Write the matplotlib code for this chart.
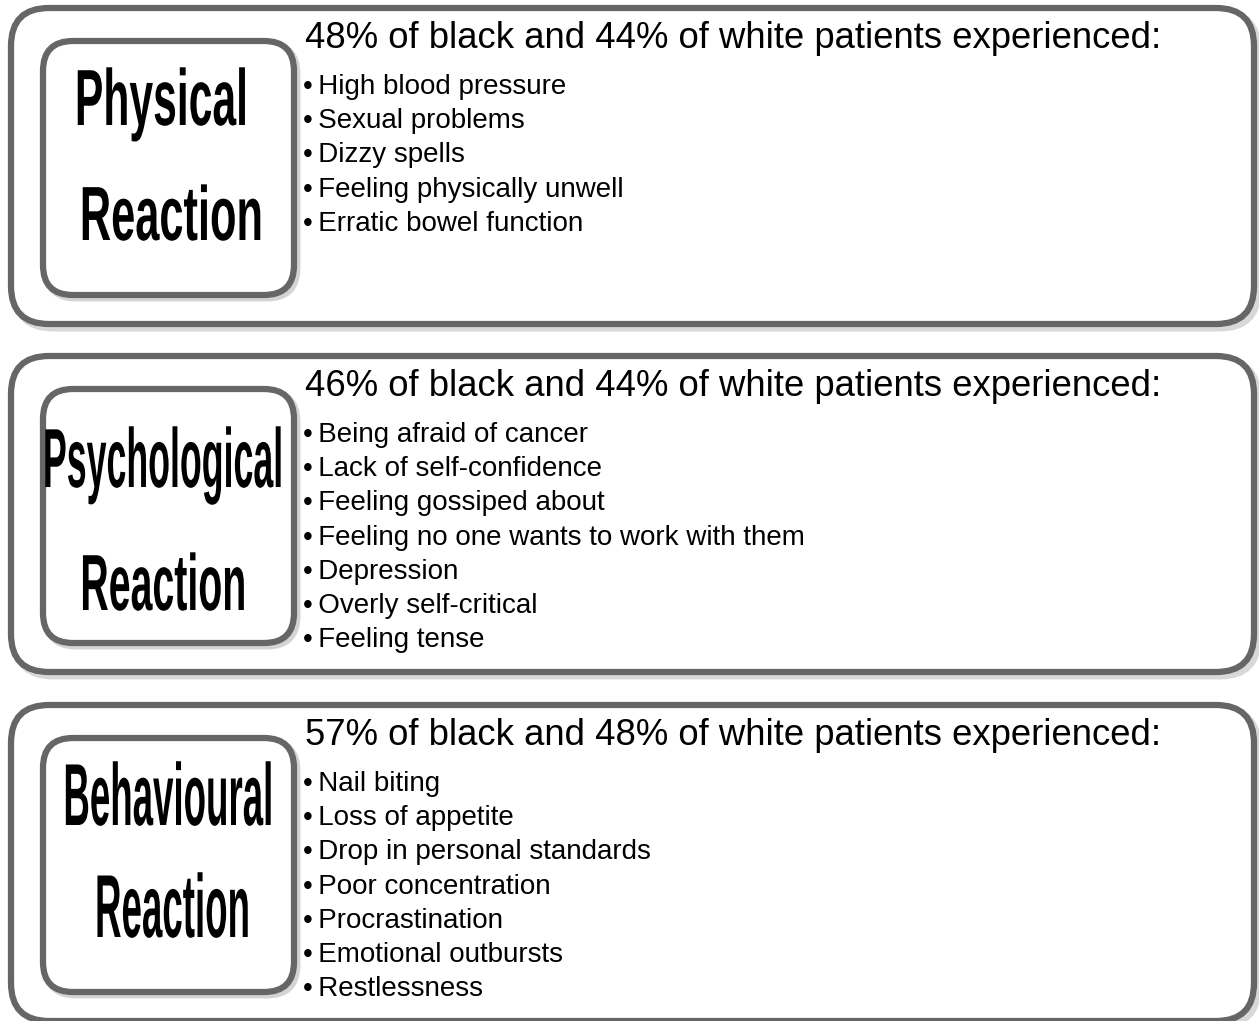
import matplotlib.pyplot as plt
from matplotlib.patches import FancyBboxPatch
from matplotlib.patheffects import AbstractPathEffect
from matplotlib.transforms import Affine2D

# data
labels = [["Physical", "Reaction"], ["Psychological", "Reaction"], ["Behavioural", "Reaction"]]
headings = [
    "48% of black and 44% of white patients experienced:",
    "46% of black and 44% of white patients experienced:",
    "57% of black and 48% of white patients experienced:",
]
items = [
    ["High blood pressure", "Sexual problems", "Dizzy spells",
     "Feeling physically unwell", "Erratic bowel function"],
    ["Being afraid of cancer", "Lack of self-confidence", "Feeling gossiped about",
     "Feeling no one wants to work with them", "Depression", "Overly self-critical",
     "Feeling tense"],
    ["Nail biting", "Loss of appetite", "Drop in personal standards",
     "Poor concentration", "Procrastination", "Emotional outbursts", "Restlessness"],
]

# layout of the big labels (pixels): left, right, baseline, cap height
label_box = [
    [(75, 248, 125, 57), (80, 263, 240, 55)],
    [(43, 283, 487, 60), (80, 246, 610, 57)],
    [(63, 273, 825, 63), (95, 250, 937, 64)],
]


class Stretch(AbstractPathEffect):
    """draw text glyphs taller, keeping the baseline (display coords)"""
    def __init__(self, sy, by):
        super().__init__()
        self.sy = sy
        self.by = by

    def draw_path(self, renderer, gc, tpath, affine, rgbFace=None):
        aff = affine + Affine2D().translate(0, -self.by).scale(1, self.sy).translate(0, self.by)
        renderer.draw_path(gc, tpath, aff, rgbFace)


body_font = ["Liberation Sans", "DejaVu Sans"]
W, H = 1259, 1021
fig = plt.figure(figsize=(W / 100, H / 100), dpi=100)
ax = fig.add_axes([0, 0, 1, 1])
ax.set_xlim(0, W)
ax.set_ylim(H, 0)
ax.axis("off")
renderer = fig.canvas.get_renderer()

grey = "#666666"
tops = [8, 356, 705]
outer_h = 316

for k in range(3):
    top = tops[k]
    ax.add_patch(FancyBboxPatch((15, top + 4), 1243, outer_h,
                                boxstyle="round,pad=0,rounding_size=38",
                                fc="none", ec="#d8d8d8", lw=5, zorder=1))
    ax.add_patch(FancyBboxPatch((11, top), 1243, outer_h,
                                boxstyle="round,pad=0,rounding_size=38",
                                fc="white", ec=grey, lw=4.5, zorder=2))
    ax.add_patch(FancyBboxPatch((46, top + 36), 251, 254,
                                boxstyle="round,pad=0,rounding_size=30",
                                fc="none", ec="#d4d4d4", lw=5, zorder=2.5))
    ax.add_patch(FancyBboxPatch((43, top + 33), 251, 254,
                                boxstyle="round,pad=0,rounding_size=30",
                                fc="white", ec=grey, lw=4.5, zorder=3))
    for j in range(2):
        x0, x1, base, cap = label_box[k][j]
        xc = (x0 + x1) / 2
        fs0 = cap / 0.716 * 0.72
        t = ax.text(xc, base, labels[k][j], ha="center", va="baseline",
                    family=body_font, fontweight="bold", fontsize=fs0, zorder=4)
        wpx = t.get_window_extent(renderer).width
        fs = fs0 * (x1 - x0) / wpx
        t.set_fontsize(fs)
        by = ax.transData.transform((xc, base))[1]
        t.set_path_effects([Stretch(fs0 / fs, by)])
    ax.text(305, top + 30, headings[k], ha="left", va="center",
            fontsize=26.3, family=body_font, zorder=4)
    for i, it in enumerate(items[k]):
        y = top + 79 + i * 34.2
        ax.text(303, y, "\u2022\u2009" + it, ha="left", va="center",
                fontsize=20, family=body_font, zorder=4)

fig.savefig("out.png", dpi=100)
